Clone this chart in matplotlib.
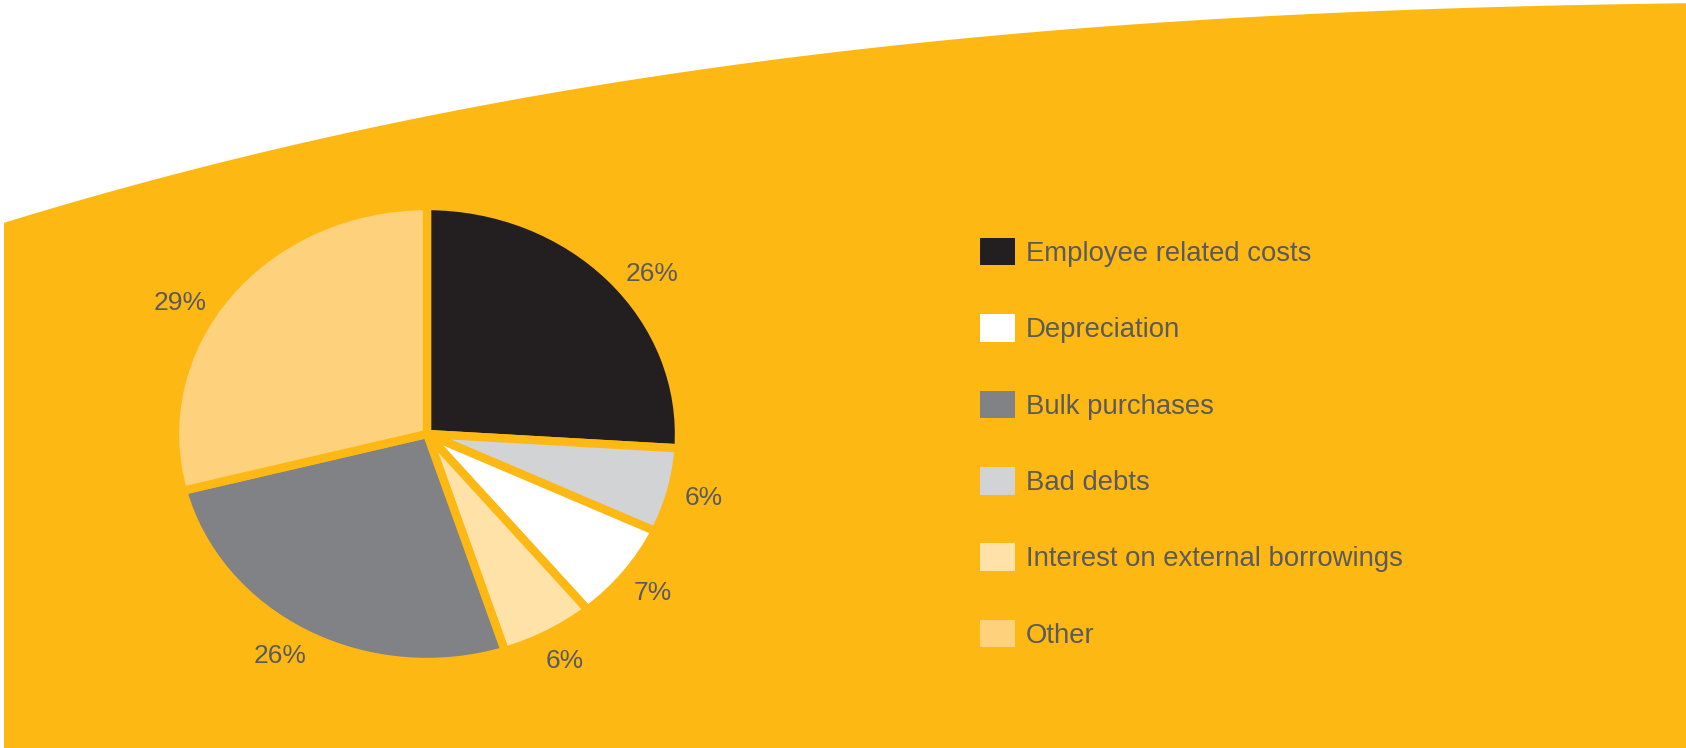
import numpy as np
import matplotlib.pyplot as plt
from matplotlib.patches import Polygon, Patch

plt.rcParams['font.family'] = ['Liberation Sans', 'DejaVu Sans']

# expenditure split, in legend order
categories = ["Employee related costs", "Depreciation", "Bulk purchases",
              "Bad debts", "Interest on external borrowings", "Other"]
shares = [26, 7, 26, 6, 6, 29]
colors = ["#231F20", "#FFFFFF", "#808285", "#D1D3D4", "#FFE2A8", "#FED27C"]
# slices go clockwise from 12 o'clock in this order
pie_order = [0, 3, 1, 4, 2, 5]

YELLOW = "#FDB813"
TEXT = "#5A5A5C"

W, H = 1686, 748
fig = plt.figure(figsize=(W / 100, H / 100), dpi=100)
fig.patch.set_facecolor("white")

# curved yellow panel: points along its top edge, in pixels from the top-left
edge_x = np.array([4, 260, 520, 560, 820, 1080, 1300, 1686])
edge_y = np.array([222, 155, 98, 91, 53, 29, 15, 3])
coef = np.polyfit(edge_x, edge_y, 3)
xs = np.linspace(4, W, 400)
ys = np.polyval(coef, xs)
pts = [(4, H)] + list(zip(xs, ys)) + [(W, H)]
pts = [(x / W, 1 - y / H) for x, y in pts]
fig.add_artist(Polygon(pts, closed=True, transform=fig.transFigure,
                       facecolor=YELLOW, edgecolor="none", zorder=0))

# pie is slightly wider than tall
cx, cy, rx, ry = 427, 434, 252, 228
ax = fig.add_axes([(cx - 1.5 * rx) / W, (H - cy - 1.5 * ry) / H, 3 * rx / W, 3 * ry / H])
vals = [shares[i] for i in pie_order]
wedges, texts = ax.pie(vals, colors=[colors[i] for i in pie_order],
                       labels=[f"{v}%" for v in vals],
                       startangle=90, counterclock=False, labeldistance=1.135,
                       wedgeprops=dict(edgecolor=YELLOW, linewidth=6),
                       textprops=dict(color=TEXT, fontsize=19))

# percentages sit a little off the slice middle for some slices
label_turn = [-5, 0, 0, 0, -2, 7.5]
for w, t, turn in zip(wedges, texts, label_turn):
    a = np.deg2rad((w.theta1 + w.theta2) / 2 + turn)
    t.set_position((1.135 * np.cos(a), 1.135 * np.sin(a)))
    t.set_ha("center")
    t.set_va("center")
ax.set_aspect("auto")
ax.set_xlim(-1.5, 1.5)
ax.set_ylim(-1.5, 1.5)
ax.set_axis_off()

handles = [Patch(facecolor=c, edgecolor="none") for c in colors]
fig.legend(handles, categories, loc="upper left",
           bbox_to_anchor=(980 / W, 1 - 238 / H), frameon=False,
           fontsize=19.8, handlelength=1.27, handleheight=1.16,
           handletextpad=0.4, labelspacing=1.72, borderpad=0,
           borderaxespad=0, labelcolor=TEXT)

fig.savefig("out.png", dpi=100)
